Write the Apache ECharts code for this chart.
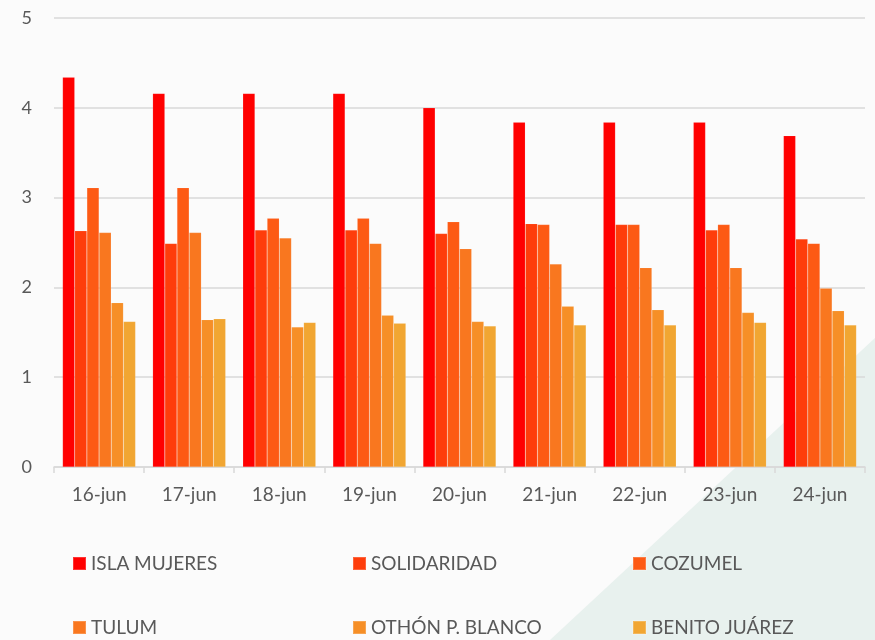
<!DOCTYPE html>
<html>
<head>
<meta charset="utf-8">
<script src="https://cdn.jsdelivr.net/npm/echarts@6/dist/echarts.min.js"></script>
<style>
  html, body { margin: 0; padding: 0; background: #fbfbfb; }
  #chart { width: 875px; height: 640px; }
</style>
</head>
<body>
<div id="chart"></div>
<script>
// categorias (dias)
const dias = ["16-jun", "17-jun", "18-jun", "19-jun", "20-jun", "21-jun", "22-jun", "23-jun", "24-jun"];
// valores por municipio
const islaMujeres = [4.34, 4.16, 4.16, 4.16, 4.0, 3.84, 3.84, 3.84, 3.69];
const solidaridad = [2.63, 2.49, 2.64, 2.64, 2.6, 2.71, 2.7, 2.64, 2.54];
const cozumel = [3.11, 3.11, 2.77, 2.77, 2.73, 2.7, 2.7, 2.7, 2.49];
const tulum = [2.61, 2.61, 2.55, 2.49, 2.43, 2.26, 2.22, 2.22, 1.99];
const othonPBlanco = [1.83, 1.64, 1.56, 1.69, 1.62, 1.79, 1.75, 1.72, 1.74];
const benitoJuarez = [1.62, 1.65, 1.61, 1.6, 1.57, 1.58, 1.58, 1.61, 1.58];

const nombres = ["ISLA MUJERES", "SOLIDARIDAD", "COZUMEL", "TULUM", "OTHÓN P. BLANCO", "BENITO JUÁREZ"];
const colores = ["#ff0000", "#fe3d0b", "#fd5a14", "#f9771f", "#f68f27", "#f1a632"];
const valores = [islaMujeres, solidaridad, cozumel, tulum, othonPBlanco, benitoJuarez];

const chart = echarts.init(document.getElementById("chart"));

const series = valores.map((data, i) => ({
  name: nombres[i],
  type: "bar",
  data: data,
  barGap: "0%",
  barCategoryGap: "19%",
  itemStyle: {
    color: colores[i],
    borderColor: "rgba(255,255,255,0.2)",
    borderWidth: 0.5,
  },
}));

// una leyenda por elemento: 3 columnas x 2 filas
const leyendas = nombres.map((nombre, i) => ({
  data: [nombre],
  left: 67 + (i % 3) * 280,
  top: i < 3 ? 549 : 613,
  itemWidth: 13,
  itemHeight: 13,
  icon: "rect",
  textStyle: {
    fontFamily: "Lato",
    fontSize: 19,
    color: "#595959",
  },
}));

const option = {
  backgroundColor: "#fbfbfb",
  animation: false,
  // fondo decorativo
  graphic: [
    {
      type: "polygon",
      z: -10,
      shape: { points: [[875, 338], [875, 640], [550, 640]] },
      style: { fill: "#e8f1ee" },
    },
  ],
  grid: { left: 54, right: 10, top: 18, bottom: 173 },
  legend: leyendas,
  xAxis: {
    type: "category",
    data: dias,
    axisLine: { lineStyle: { color: "#d9d9d9", width: 1.5 } },
    axisTick: { show: true, length: 6, lineStyle: { color: "#d9d9d9", width: 1.5 } },
    axisLabel: { color: "#595959", fontFamily: "Lato", fontSize: 19, margin: 18 },
  },
  yAxis: {
    type: "value",
    min: 0,
    max: 5,
    interval: 1,
    axisLine: { show: false },
    axisTick: { show: false },
    splitLine: { lineStyle: { color: "#d9d9d9", width: 1.5 } },
    axisLabel: { color: "#595959", fontFamily: "Lato", fontSize: 18, margin: 22 },
  },
  series: series,
};

chart.setOption(option);
</script>
</body>
</html>
